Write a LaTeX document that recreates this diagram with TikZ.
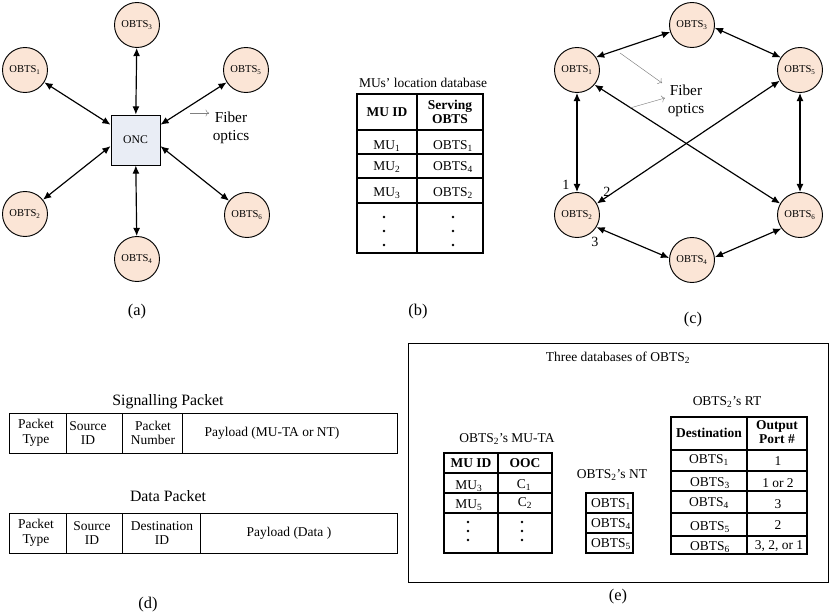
\documentclass[tikz,border=0pt]{standalone}
\usepackage{fontspec}
\setmainfont{Liberation Serif}
\usepackage{xcolor}
\usetikzlibrary{arrows.meta,calc}

\definecolor{peach}{HTML}{FBE5D6}
\definecolor{oncfill}{HTML}{E9EDF5}
\newcommand{\ob}[1]{OBTS\textsubscript{#1}}

\tikzset{
  obts/.style={circle, draw, line width=0.8pt, fill=peach, minimum size=1.35cm, inner sep=0pt, font=\fontsize{9}{10}\selectfont},
  fiber/.style={line width=1pt, {Latex[length=7pt,width=6pt]}-{Latex[length=7pt,width=6pt]}},
  hint/.style={gray, line width=0.4pt, -{To[length=3pt,width=6pt]}},
  cell/.style={font=\fontsize{11.5}{12.5}\selectfont, inner sep=0pt, align=center},
  head/.style={cell, font=\fontsize{11.5}{12.5}\selectfont\bfseries},
  ttl/.style={font=\fontsize{11.5}{13}\selectfont, inner sep=0pt},
  bigttl/.style={font=\fontsize{13.5}{15}\selectfont, inner sep=0pt},
  subcap/.style={font=\fontsize{14}{16}\selectfont, inner sep=0pt},
  grid/.style={line width=1pt},
}

\begin{document}
\begin{tikzpicture}[x=0.03cm, y=-0.03cm]
    \useasboundingbox (0, 0) rectangle (830, 615);
    % (a) star network:
    \node[obts] (a3) at (137, 25) {\ob{3}};
    \node[obts] (a1) at (25, 70) {\ob{1}};
    \node[obts] (a5) at (246, 70) {\ob{5}};
    \node[obts] (a2) at (25, 214) {\ob{2}};
    \node[obts] (a6) at (247, 215) {\ob{6}};
    \node[obts] (a4) at (137, 259) {\ob{4}};
    \node[draw, line width=0.8pt, fill=oncfill, minimum width=1.47cm, minimum height=1.5cm, font=\fontsize{10}{12}\selectfont] (onc) at (135.5, 140) {ONC};
    \coordinate (oncW1) at ($(onc.north west)!0.2!(onc.south west)$);
    \coordinate (oncW2) at ($(onc.north west)!0.62!(onc.south west)$);
    \coordinate (oncE1) at ($(onc.north east)!0.2!(onc.south east)$);
    \coordinate (oncE2) at ($(onc.north east)!0.62!(onc.south east)$);
    \draw[fiber] (a1) -- (oncW1);
    \draw[fiber] (a2) -- (oncW2);
    \draw[fiber] (a5) -- (oncE1);
    \draw[fiber] (a6) -- (oncE2);
    \draw[fiber] (a3) -- (onc);
    \draw[fiber] (onc) -- (a4);
    \coordinate (fa1) at (190, 113);
    \coordinate (fa2) at (209, 113);
    \draw[hint] (fa1) -- (fa2);
    \node[font=\fontsize{13}{15}\selectfont, align=center, inner sep=0pt] (fibA) at (231, 128) {Fiber\\optics};
    \node[subcap] (capA) at (137, 312) {(a)};

    % (b) location database:
    \node[ttl] (ttlB) at (423, 83) {MUs’ location database};
    \draw[grid] (357, 94) rectangle (483, 253);
    \draw[grid] (417, 94) -- (417, 253);
    \foreach \y in {130, 154, 178, 203}
      \draw[grid] (357, \y) -- (483, \y);
    \node[head] (hB1) at (387, 112) {MU ID};
    \node[head] (hB2) at (450, 112) {Serving\\OBTS};
    \node[cell] (b11) at (387, 146) {MU\textsubscript{1}};
    \node[cell] (b12) at (453, 146) {\ob{1}};
    \node[cell] (b21) at (387, 167) {MU\textsubscript{2}};
    \node[cell] (b22) at (453, 167) {\ob{4}};
    \node[cell] (b31) at (387, 193) {MU\textsubscript{3}};
    \node[cell] (b32) at (453, 193) {\ob{2}};
    \foreach \y in {217, 231, 245} {
      \fill (384, \y) circle (1.4);
      \fill (453, \y) circle (1.4);
    }
    \node[subcap] (capB) at (418, 312) {(b)};

    % (c) mesh network:
    \node[obts] (c3) at (692, 25) {\ob{3}};
    \node[obts] (c1) at (577, 70) {\ob{1}};
    \node[obts] (c5) at (800, 70) {\ob{5}};
    \node[obts] (c2) at (577, 215) {\ob{2}};
    \node[obts] (c6) at (800, 215) {\ob{6}};
    \node[obts] (c4) at (692, 260) {\ob{4}};
    \draw[fiber] (c1.34) -- (c3.198);
    \draw[fiber] (c3.353) -- (c5.147);
    \draw[fiber] (c1) -- (c2);
    \draw[fiber] (c5) -- (c6);
    \draw[fiber] (c2.328) -- (c4.175);
    \draw[fiber] (c4.7) -- (c6.216);
    \draw[fiber] (c1.320) -- (c6.150);
    \draw[fiber] (c5.208) -- (c2.30);
    \node[font=\fontsize{13}{15}\selectfont, align=center, inner sep=0pt] (fibC) at (686, 101) {Fiber\\optics};
    \coordinate (fc1) at (620, 53);
    \coordinate (fc2) at (662, 83);
    \coordinate (fc3) at (630, 108);
    \coordinate (fc4) at (665, 98);
    \draw[hint] (fc1) -- (fc2);
    \draw[hint] (fc3) -- (fc4);
    \node[ttl, font=\fontsize{12}{14}\selectfont] (p1) at (566, 185) {1};
    \node[ttl, font=\fontsize{12}{14}\selectfont] (p2) at (607, 192) {2};
    \node[ttl, font=\fontsize{12}{14}\selectfont] (p3) at (595, 242) {3};
    \node[subcap] (capC) at (693, 320) {(c)};

    % (d) packet formats:
    \node[bigttl] (ttlD1) at (168, 402) {Signalling Packet};
    \draw[line width=0.8pt] (9, 413) rectangle (397, 453);
    \foreach \x in {66, 122, 182}
      \draw[line width=0.8pt] (\x, 413) -- (\x, 453);
    \node[cell] (s1) at (36, 433) {Packet\\Type};
    \node[cell] (s2) at (88, 433) {Source\\ID};
    \node[cell] (s3) at (153, 433) {Packet\\Number};
    \node[cell] (s4) at (272, 433) {Payload (MU-TA or NT)};
    \node[bigttl] (ttlD2) at (168, 496) {Data Packet};
    \draw[line width=0.8pt] (9, 513) rectangle (397, 553);
    \foreach \x in {66, 122, 200}
      \draw[line width=0.8pt] (\x, 513) -- (\x, 553);
    \node[cell] (d1) at (36, 533) {Packet\\Type};
    \node[cell] (d2) at (92, 533) {Source\\ID};
    \node[cell] (d3) at (162, 533) {Destination\\ID};
    \node[cell] (d4) at (289, 533) {Payload (Data )};
    \node[subcap] (capD) at (148, 605) {(d)};

    % (e) databases of OBTS2:
    \draw[line width=0.8pt] (408, 343) rectangle (828, 582);
    \node[ttl] (ttlE) at (618, 358) {Three databases of \ob{2}};
    % MU-TA
    \node[ttl] (ttlE1) at (507, 439) {\ob{2}'s MU-TA};
    \draw[grid] (444, 453) rectangle (552, 553);
    \draw[grid] (498, 453) -- (498, 553);
    \foreach \y in {473, 493, 513}
      \draw[grid] (444, \y) -- (552, \y);
    \node[head] (m01) at (471, 463) {MU ID};
    \node[head] (m02) at (525, 463) {OOC};
    \node[cell] (m11) at (469, 486) {MU\textsubscript{3}};
    \node[cell] (m12) at (524, 485) {C\textsubscript{1}};
    \node[cell] (m21) at (469, 505) {MU\textsubscript{5}};
    \node[cell] (m22) at (525, 503) {C\textsubscript{2}};
    \foreach \y in {522, 531, 540} {
      \fill (468, \y) circle (1.4);
      \fill (522, \y) circle (1.4);
    }
    % NT
    \node[ttl] (ttlE2) at (612, 475) {\ob{2}'s NT};
    \draw[grid] (586, 493) rectangle (633, 553);
    \foreach \y in {513, 533}
      \draw[grid] (586, \y) -- (633, \y);
    \node[cell] (n1) at (611, 504) {\ob{1}};
    \node[cell] (n2) at (611, 524) {\ob{4}};
    \node[cell] (n3) at (611, 544) {\ob{5}};
    % RT
    \node[ttl] (ttlE3) at (727, 402) {\ob{2}'s RT};
    \draw[grid] (671, 417) rectangle (807, 554);
    \draw[grid] (747, 417) -- (747, 554);
    \foreach \y in {450, 471, 491, 513, 536}
      \draw[grid] (671, \y) -- (807, \y);
    \node[head] (r01) at (709, 433) {Destination};
    \node[head] (r02) at (777, 432) {Output\\Port \#};
    \node[cell] (r11) at (709, 460) {\ob{1}};
    \node[cell] (r12) at (778, 461) {1};
    \node[cell] (r21) at (710, 483) {\ob{3}};
    \node[cell] (r22) at (778, 483) {1 or 2};
    \node[cell] (r31) at (709, 503) {\ob{4}};
    \node[cell] (r32) at (778, 504) {3};
    \node[cell] (r41) at (710, 527) {\ob{5}};
    \node[cell] (r42) at (778, 525) {2};
    \node[cell] (r51) at (710, 547) {\ob{6}};
    \node[cell] (r52) at (779, 546) {3, 2, or 1};
    \node[subcap] (capE) at (618, 597) {(e)};
\end{tikzpicture}
\end{document}
